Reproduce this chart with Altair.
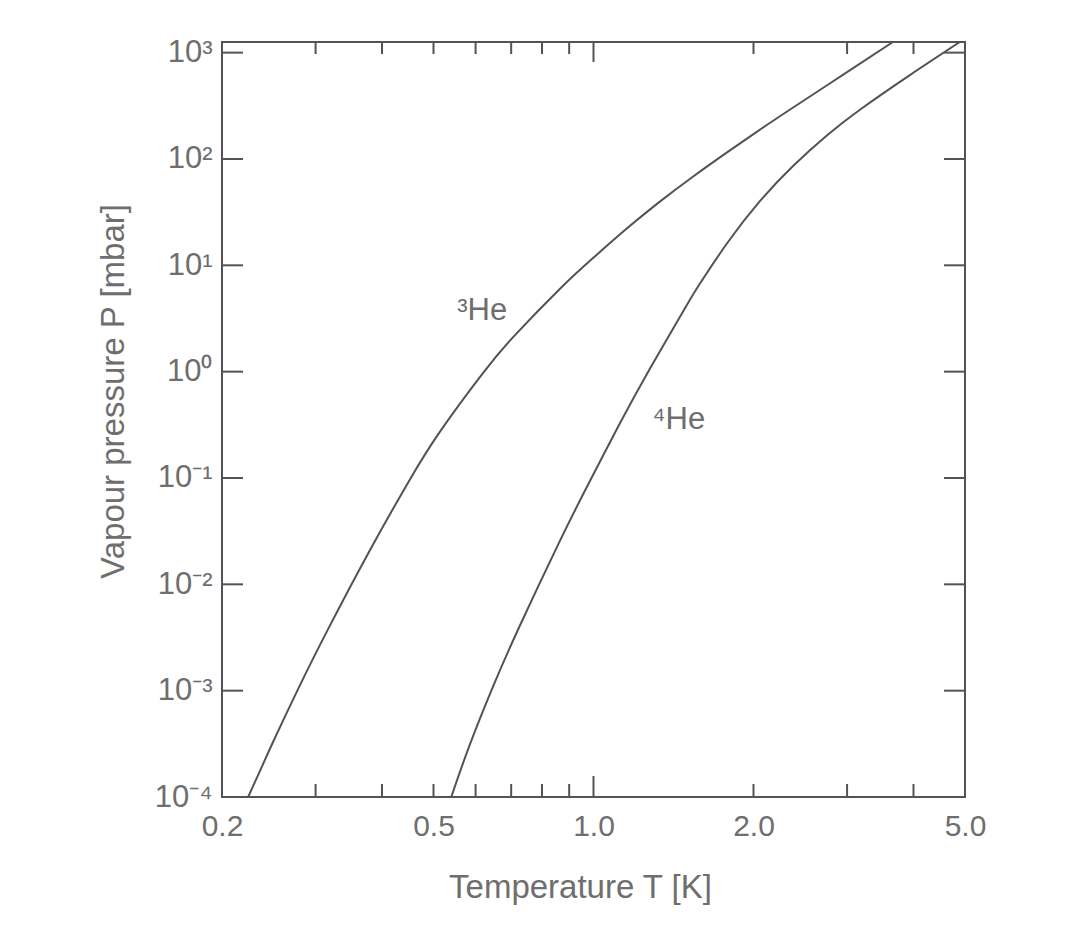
import altair as alt
import pandas as pd

# ---- data ----
he3_T = [0.224, 0.2485, 0.2782, 0.3151, 0.3787, 0.4486, 0.5135, 0.6215, 0.7131, 0.8604,
         0.9943, 1.152, 1.331, 1.538, 1.786, 2.054, 2.375, 2.955, 3.66]
he3_P = [1.00e-4, 3.15e-4, 1.04e-3, 3.61e-3, 0.0205, 0.0918, 0.270, 0.989, 2.23, 5.87,
         11.5, 21.9, 39.5, 68.1, 116, 188, 305, 624, 1259]
he4_T = [0.54, 0.5852, 0.6479, 0.7249, 0.8587, 0.9731, 1.1155, 1.2789, 1.4993, 1.6028,
         1.7853, 2.0597, 2.3767, 2.7518, 3.176, 3.944, 4.89]
he4_P = [1.00e-4, 3.11e-4, 1.11e-3, 3.97e-3, 0.0239, 0.0836, 0.311, 1.08, 4.26, 7.30,
         16.2, 40.5, 86.5, 167, 292, 618, 1259]

label_text = ["\u00b3He", "\u2074He"]
label_T = [0.554, 1.29]
label_P = [3.74, 0.354]

x_label_values = [0.2, 0.5, 1.0, 2.0, 5.0]
x_minor_ticks = [0.3, 0.4, 0.5, 0.6, 0.7, 0.8, 0.9, 2.0, 3.0, 4.0]
x_major_ticks = [1.0]
y_tick_values = [1e-4, 1e-3, 1e-2, 1e-1, 1e0, 1e1, 1e2, 1e3]
y_tick_labels = ["10\u207b\u2074", "10\u207b\u00b3", "10\u207b\u00b2", "10\u207b\u00b9",
                 "10\u2070", "10\u00b9", "10\u00b2", "10\u00b3"]

# ---- tables ----
curves = pd.DataFrame({
    "T": he3_T + he4_T,
    "P": he3_P + he4_P,
    "series": ["3He"] * len(he3_T) + ["4He"] * len(he4_T),
})
labels = pd.DataFrame({"T": label_T, "P": label_P, "text": label_text})
xminor = pd.DataFrame({"T": x_minor_ticks})
xmajor = pd.DataFrame({"T": x_major_ticks})
yticks = pd.DataFrame({"P": y_tick_values})

W, H = 743, 755
FONT = "Liberation Sans"
TXT = "#6e6e6e"
LINE = "#565058"

xscale = alt.Scale(type="log", domain=[0.2, 5.0], nice=False)
yscale = alt.Scale(type="log", domain=[1e-4, 1259], nice=False)

label_expr = "[" + ",".join("'" + s + "'" for s in y_tick_labels) + "][round(log(datum.value)/LN10) + 4]"

xaxis = alt.Axis(values=x_label_values, format=".1f", ticks=False, domain=False, grid=False,
                 labelFont=FONT, labelFontSize=30, labelColor=TXT, labelPadding=14,
                 labelFlush=False, labelOverlap=False,
                 title="Temperature T [K]", titleFont=FONT, titleFontSize=33,
                 titleFontWeight="normal", titleColor=TXT, titlePadding=30, titleX=358)
yaxis = alt.Axis(values=y_tick_values, labelExpr=label_expr, ticks=False, domain=False, grid=False,
                 labelFont=FONT, labelFontSize=31, labelColor=TXT, labelPadding=10,
                 labelFlush=False, labelOverlap=False,
                 title="Vapour pressure P [mbar]", titleFont=FONT, titleFontSize=33,
                 titleFontWeight="normal", titleColor=TXT, titlePadding=24, titleY=349)


def X():
    return alt.X("T:Q", scale=xscale, axis=xaxis, title="Temperature T [K]")


def Y():
    return alt.Y("P:Q", scale=yscale, axis=yaxis, title="Vapour pressure P [mbar]")


lines = alt.Chart(curves).mark_line(color=LINE, strokeWidth=2, interpolate="natural", clip=True).encode(
    x=X(), y=Y(), detail="series:N", order="T:Q"
)

text = alt.Chart(labels).mark_text(align="left", baseline="middle", font=FONT, fontSize=31, color=TXT).encode(
    x=X(), y=Y(), text="text:N"
)

tick_style = dict(color=LINE, strokeWidth=2)
bot_minor = alt.Chart(xminor).mark_rule(**tick_style).encode(x=X(), y=alt.value(H), y2=alt.value(H - 13))
bot_major = alt.Chart(xmajor).mark_rule(**tick_style).encode(x=X(), y=alt.value(H), y2=alt.value(H - 21))
top_minor = alt.Chart(xminor).mark_rule(**tick_style).encode(x=X(), y=alt.value(0), y2=alt.value(12))
top_major = alt.Chart(xmajor).mark_rule(**tick_style).encode(x=X(), y=alt.value(0), y2=alt.value(20))
left_t = alt.Chart(yticks).mark_rule(**tick_style).encode(y=Y(), x=alt.value(0), x2=alt.value(21))
right_t = alt.Chart(yticks).mark_rule(**tick_style).encode(y=Y(), x=alt.value(W), x2=alt.value(W - 21))

chart = alt.layer(
    lines, text, bot_minor, bot_major, top_minor, top_major, left_t, right_t
).properties(
    width=W, height=H,
    autosize=alt.AutoSizeParams(type="none"),
    padding={"left": 214, "top": 34, "right": 100, "bottom": 120},
    background="white",
).configure_view(
    stroke=LINE, strokeWidth=2, fill="white"
)

chart.save("out.html", embed_options={"renderer": "svg", "actions": False})
